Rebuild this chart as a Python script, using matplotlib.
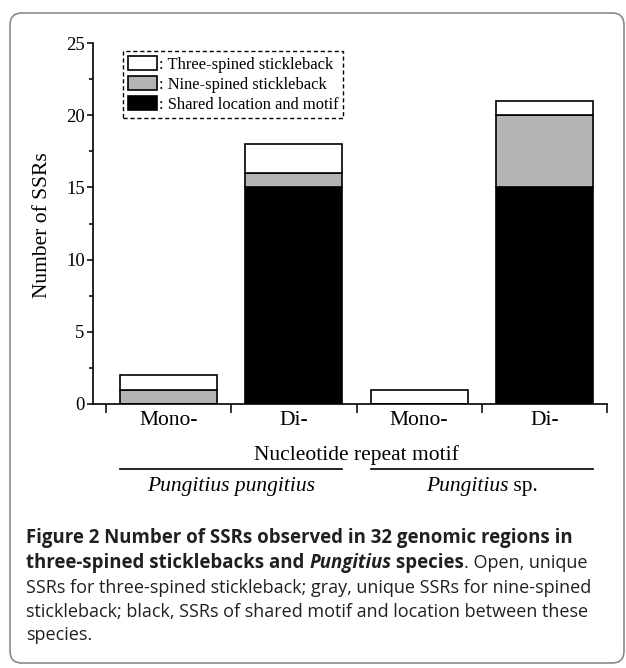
import matplotlib
matplotlib.use('Agg')
import matplotlib.pyplot as plt
import matplotlib.transforms as mtransforms
from matplotlib.patches import FancyBboxPatch, Patch

categories = ['Mono-', 'Di-', 'Mono-', 'Di-']
shared = [0, 15, 0, 15]      # shared location and motif (black)
nine = [1, 1, 0, 5]          # nine-spined stickleback (gray)
three = [1, 2, 1, 1]         # three-spined stickleback (white)
species_runs = [[('Pungitius pungitius', True)],
                [('Pungitius', True), (' sp.', False)]]
legend_labels = [': Three-spined stickleback', ': Nine-spined stickleback',
                 ': Shared location and motif']

W, H = 626, 668
fig = plt.figure(figsize=(W / 100, H / 100), dpi=100)
serif = 'Liberation Serif'
plt.rcParams['font.family'] = serif

def fx(px):
    return px / W

def fy(py):
    return 1 - py / H

# outer rounded frame
frame = FancyBboxPatch((10, H - 663), 614, 650, boxstyle='round,pad=0,rounding_size=12',
                       transform=mtransforms.IdentityTransform(), facecolor='none',
                       edgecolor='#8a8a8a', lw=1.2)
fig.add_artist(frame)

ax = fig.add_axes([fx(93), fy(404), fx(607) - fx(93), fy(43) - fy(404)])
x = list(range(len(categories)))
bw = 0.775
bottom2 = [a + b for a, b in zip(shared, nine)]
ax.bar(x, shared, bw, color='black', edgecolor='black', lw=1.2)
ax.bar(x, nine, bw, bottom=shared, color='#b4b4b4', edgecolor='black', lw=1.2)
ax.bar(x, three, bw, bottom=bottom2, color='white', edgecolor='black', lw=1.2)

ax.set_xlim(-0.604, 3.5)
ax.set_ylim(0, 25)
for s in ['top', 'right']:
    ax.spines[s].set_visible(False)
for s in ['left', 'bottom']:
    ax.spines[s].set_linewidth(1.2)

ax.set_yticks([0, 5, 10, 15, 20, 25])
ax.set_yticks([2.5, 7.5, 12.5, 17.5, 22.5], minor=True)
ax.tick_params(axis='y', which='major', direction='out', length=4.5, width=1.1,
               labelsize=13.5, pad=1.5)
ax.tick_params(axis='y', which='minor', direction='out', length=3, width=1.1)

ax.set_xticks([-0.5, 0.5, 1.5, 2.5, 3.5])
ax.set_xticklabels([])
ax.set_xticks(x, minor=True)
ax.set_xticklabels(categories, minor=True)
ax.tick_params(axis='x', which='major', direction='out', length=6.5, width=1.1)
ax.tick_params(axis='x', which='minor', length=0, labelsize=15.5, pad=5)

# legend
handles = [Patch(facecolor='white', edgecolor='black', lw=1.2),
           Patch(facecolor='#b4b4b4', edgecolor='black', lw=1.2),
           Patch(facecolor='black', edgecolor='black', lw=1.2)]
leg = ax.legend(handles, legend_labels, loc='upper left',
                bbox_to_anchor=((123 - 93) / 514, (404 - 51) / 361), borderaxespad=0,
                fontsize=11.9, fancybox=False, handlelength=1.75, handleheight=0.95,
                handletextpad=0.1, labelspacing=0.2, borderpad=0.3, framealpha=1)
leg.get_frame().set_edgecolor('black')
leg.get_frame().set_linestyle((0, (3, 2)))
leg.get_frame().set_linewidth(1.0)

# axis texts
blend = mtransforms.blended_transform_factory(ax.transData, fig.transFigure)
fig.text(fx(43), fy(225), 'Number of SSRs', rotation=90, ha='center', va='center',
         fontsize=15.5)
ax.text(1.5, fy(455), 'Nucleotide repeat motif', transform=blend, ha='center',
        va='center', fontsize=15.5)
for i in range(2):
    ax.plot([2 * i - bw / 2, 2 * i + 1 + bw / 2], [fy(469), fy(469)], transform=blend,
            color='black', lw=1.2, clip_on=False)

renderer = fig.canvas.get_renderer()

def run_width(txt, **kw):
    t1 = fig.text(0, 0, txt + '|', **kw)
    t2 = fig.text(0, 0, '|', **kw)
    w = t1.get_window_extent(renderer).width - t2.get_window_extent(renderer).width
    t1.remove()
    t2.remove()
    return w

def put_runs(x0, yc, runs, ha='left'):
    widths = [run_width(t, **kw) for t, kw in runs]
    total = sum(widths)
    xp = x0 - total / 2 if ha == 'center' else x0
    for (t, kw), w in zip(runs, widths):
        fig.text(fx(xp), fy(yc), t, va='center', ha='left', **kw)
        xp += w

for i in range(2):
    xc = ax.transData.transform((2 * i + 0.5, 0))[0]
    runs = [(t, dict(fontsize=15.5, family=serif, style='italic' if it else 'normal'))
            for t, it in species_runs[i]]
    put_runs(xc, 487, runs, ha='center')

# caption: sizes fitted to the measured line widths
cap_font = 'Open Sans'
line1 = 'Figure 2 Number of SSRs observed in 32 genomic regions in'
line3 = 'SSRs for three-spined stickleback; gray, unique SSRs for nine-spined'
bsize = 10 * 547 / run_width(line1, family=cap_font, fontsize=10, weight='bold')
rsize = 10 * 567 / run_width(line3, family=cap_font, fontsize=10)
col = '#231f20'
B = dict(family=cap_font, fontsize=bsize, weight='bold', color=col)
BI = dict(B, style='italic')
R = dict(family=cap_font, fontsize=rsize, color=col)
lines = [
    [(line1, B)],
    [('three-spined sticklebacks and ', B), ('Pungitius', BI), (' species', B),
     ('. Open, unique', R)],
    [(line3, R)],
    [('stickleback; black, SSRs of shared motif and location between these', R)],
    [('species.', R)],
]
ys = [538, 563, 588, 612, 635]
for ln, yy in zip(lines, ys):
    put_runs(26, yy, ln)

fig.savefig('out.png', dpi=100)
